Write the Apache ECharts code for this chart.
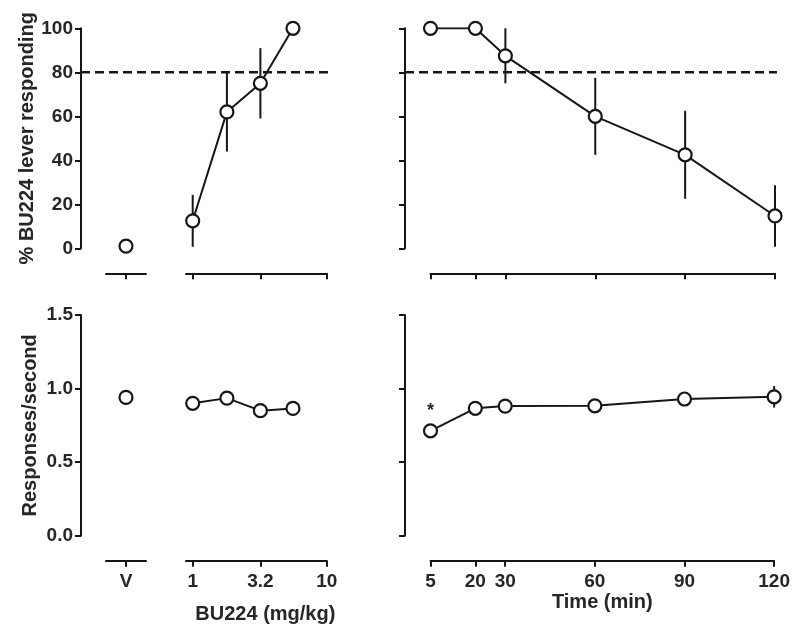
<!DOCTYPE html>
<html>
<head>
<meta charset="utf-8">
<script src="https://cdn.jsdelivr.net/npm/echarts@6/dist/echarts.min.js"></script>
<style>
  html, body { margin: 0; background: #fff; }
  #main { width: 793px; height: 629px; }
</style>
</head>
<body>
<div id="main"></div>
<script>
// doses (mg/kg) and pretreatment times (min)
var vehLabel = ['V'];
var doses = [1, 1.8, 3.2, 5.6];
var doseTicks = [1, 3.2, 10];
var times = [5, 20, 30, 60, 90, 120];
var criterion = 80; // % drug-lever criterion

// top row: % BU224 lever responding (mean, SEM)
var vehPct = [1];
var vehPctErr = [0];
var dosePct = [12.5, 62, 75, 100];
var dosePctErr = [11.8, 18, 16, 0];
var timePct = [100, 100, 87.5, 60, 42.5, 14.7];
var timePctErr = [0, 0, 12.5, 17.5, 20, 14];

// bottom row: responses/second (mean, SEM)
var vehRate = [0.94];
var vehRateErr = [0.045];
var doseRate = [0.90, 0.935, 0.85, 0.865];
var doseRateErr = [0.02, 0.02, 0.02, 0.02];
var timeRate = [0.713, 0.866, 0.881, 0.883, 0.929, 0.944];
var timeRateErr = [0.02, 0.02, 0.02, 0.02, 0.02, 0.073];
var timeRateSig = [true, false, false, false, false, false];

var INK = '#161616';
var TXT = '#262626';
var FONT = 'Liberation Sans, Arial, sans-serif';

var chart = echarts.init(document.getElementById('main'));

var rows = [
  { top: 28.3, height: 220 },
  { top: 315, height: 220.7 }
];

var grids = [], xAxes = [], yAxes = [], series = [];

function logd(d) { return Math.log10(d); }

function yAxisFor(gi, max, interval, showAxis, name, fmt) {
  return {
    gridIndex: gi, type: 'value', min: 0, max: max, interval: interval,
    show: showAxis,
    name: name, nameLocation: 'middle', nameGap: 41,
    nameTextStyle: { fontFamily: FONT, fontSize: 20, fontWeight: 'bold', color: TXT },
    axisLine: { show: true, lineStyle: { color: INK, width: 2 } },
    axisTick: { show: true, length: 6, lineStyle: { color: INK, width: 2 } },
    axisLabel: { show: !!fmt, margin: 8, fontFamily: FONT, fontSize: 19, fontWeight: 'bold',
      color: TXT, formatter: fmt },
    splitLine: { show: false }
  };
}

function xBase(gi, showLabels) {
  return {
    gridIndex: gi, offset: 25,
    axisLine: { show: true, onZero: false, lineStyle: { color: INK, width: 2 } },
    axisTick: { show: true, length: 6, lineStyle: { color: INK, width: 2 } },
    axisLabel: { show: showLabels, margin: 12, fontFamily: FONT, fontSize: 19, fontWeight: 'bold', color: TXT },
    splitLine: { show: false }
  };
}

function errSeries(axi, xs, means, errs) {
  return {
    type: 'custom', xAxisIndex: axi, yAxisIndex: axi, z: 1, silent: true,
    encode: { x: 0, y: [1, 2] },
    data: xs.map(function (x, i) { return [x, means[i] - errs[i], means[i] + errs[i]]; }),
    renderItem: function (params, api) {
      var a = api.coord([api.value(0), api.value(1)]);
      var b = api.coord([api.value(0), api.value(2)]);
      return { type: 'line', shape: { x1: a[0], y1: a[1], x2: b[0], y2: b[1] },
        style: { stroke: INK, lineWidth: 2 } };
    }
  };
}

function pointSeries(axi, data, withLine) {
  return {
    type: withLine ? 'line' : 'scatter', xAxisIndex: axi, yAxisIndex: axi, z: 3,
    data: data, symbol: 'circle', symbolSize: 13, showSymbol: true,
    itemStyle: { color: '#fff', borderColor: INK, borderWidth: 2.2, opacity: 1 },
    lineStyle: { color: INK, width: 2 },
    label: { show: false },
    emphasis: { disabled: true }
  };
}

rows.forEach(function (r, ri) {
  var top = ri === 0;
  var max = top ? 100 : 1.5;
  var interval = top ? 20 : 0.5;
  var base = grids.length;
  // 0 frame left, 1 vehicle, 2 dose, 3 frame right, 4 time
  grids.push(
    { left: 81, top: r.top, width: 247, height: r.height },
    { left: 106, top: r.top, width: 40, height: r.height },
    { left: 186, top: r.top, width: 140.7, height: r.height },
    { left: 405, top: r.top, width: 372, height: r.height },
    { left: 430.5, top: r.top, width: 344.5, height: r.height }
  );

  var fmt = top ? function (v) { return String(v); } : function (v) { return v.toFixed(1); };
  yAxes.push(
    yAxisFor(base, max, interval, true, top ? '% BU224 lever responding' : 'Responses/second', fmt),
    yAxisFor(base + 1, max, interval, false),
    yAxisFor(base + 2, max, interval, false),
    yAxisFor(base + 3, max, interval, true, '', null),
    yAxisFor(base + 4, max, interval, false)
  );

  var xv = xBase(base + 1, !top);
  xv.type = 'category'; xv.data = vehLabel; xv.boundaryGap = true;
  xv.axisTick.alignWithLabel = true;

  var xd = xBase(base + 2, !top);
  xd.type = 'value'; xd.min = logd(1) - 0.05; xd.max = logd(10);
  xd.axisTick.customValues = doseTicks.map(logd);
  xd.axisLabel.customValues = doseTicks.map(logd);
  xd.axisLabel.formatter = function (v) { return String(+Math.pow(10, v).toFixed(1)); };
  if (!top) {
    xd.name = 'BU224 (mg/kg)'; xd.nameLocation = 'middle'; xd.nameGap = 44;
    xd.nameTextStyle = { fontFamily: FONT, fontSize: 20, fontWeight: 'bold', color: TXT, padding: [0, 0, 0, 18] };
  }

  var xt = xBase(base + 4, !top);
  xt.type = 'value'; xt.min = times[0]; xt.max = times[times.length - 1];
  xt.axisTick.customValues = times;
  xt.axisLabel.customValues = times;
  if (!top) {
    xt.name = 'Time (min)'; xt.nameLocation = 'middle'; xt.nameGap = 31;
    xt.nameTextStyle = { fontFamily: FONT, fontSize: 20, fontWeight: 'bold', color: TXT };
  }

  xAxes.push(
    { gridIndex: base, type: 'value', min: 0, max: 1, show: false },
    xv, xd,
    { gridIndex: base + 3, type: 'value', min: 0, max: 1, show: false },
    xt
  );

  var veh = top ? vehPct : vehRate, vehE = top ? vehPctErr : vehRateErr;
  var dm = top ? dosePct : doseRate, de = top ? dosePctErr : doseRateErr;
  var tm = top ? timePct : timeRate, te = top ? timePctErr : timeRateErr;

  series.push(errSeries(base + 1, [0], veh, vehE));
  series.push(pointSeries(base + 1, veh.map(function (v, i) { return [i, v]; }), false));

  series.push(errSeries(base + 2, doses.map(logd), dm, de));
  series.push(pointSeries(base + 2, doses.map(function (d, i) { return [logd(d), dm[i]]; }), true));

  series.push(errSeries(base + 4, times, tm, te));
  series.push(pointSeries(base + 4, times.map(function (t, i) {
    if (!top && timeRateSig[i]) {
      return { value: [t, tm[i]], label: { show: true, formatter: '*', position: 'top', distance: 3,
        fontFamily: FONT, fontSize: 18, fontWeight: 'bold', color: TXT } };
    }
    return [t, tm[i]];
  }), true));

  if (top) {
    [base, base + 3].forEach(function (fi) {
      series.push({
        type: 'line', xAxisIndex: fi, yAxisIndex: fi, z: 2, silent: true,
        symbol: 'none', data: [[0, criterion], [1, criterion]],
        lineStyle: { color: INK, width: 2.4, type: [9, 5] }
      });
    });
  }
});

chart.setOption({
  backgroundColor: '#fff',
  animation: false,
  grid: grids,
  xAxis: xAxes,
  yAxis: yAxes,
  series: series
});
</script>
</body>
</html>
